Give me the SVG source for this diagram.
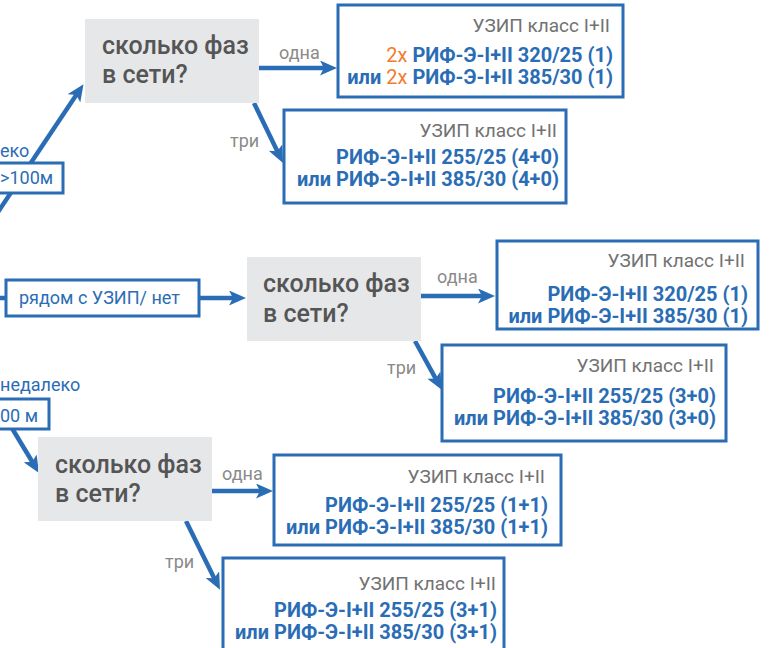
<svg xmlns="http://www.w3.org/2000/svg" width="771" height="648" viewBox="0 0 771 648">
<style>
.q{fill:#e6e7e9}
.qt{font-family:Roboto,"Liberation Sans",sans-serif;font-size:25px;font-weight:500;fill:#555}
.lb{font-family:Roboto,"Liberation Sans",sans-serif;font-size:18px;fill:#8a8a8a}
.rb{fill:#fff;stroke:#2a6db5;stroke-width:3}
.hd{font-family:Roboto,"Liberation Sans",sans-serif;font-size:19px;fill:#727272;text-anchor:end}
.pt{font-family:Roboto,"Liberation Sans",sans-serif;font-size:20px;font-weight:700;fill:#2a6db5;text-anchor:end}
.or{fill:#f27c2c;font-weight:400}
.bt{font-family:Roboto,"Liberation Sans",sans-serif;font-size:18px;fill:#2a6db5}
.c{stroke:#2a6db5;stroke-width:4.5;fill:none;marker-end:url(#ah)}
</style>
<defs>
<marker id="ah" markerUnits="userSpaceOnUse" markerWidth="17" markerHeight="15" viewBox="0 0 17 15" refX="6" refY="7.5" orient="auto">
<path d="M0,0 L17,7.5 L0,15 L4,7.5 z" fill="#2a6db5"/>
</marker>
</defs>
<g id="connectors">
<line class="c" x1="-4" y1="215" x2="77.4" y2="93.3"/>
<line class="c" x1="259" y1="68" x2="326" y2="68"/>
<line class="c" x1="254" y1="103" x2="278.2" y2="153"/>
<line class="c" x1="-2" y1="298" x2="235" y2="298"/>
<line class="c" x1="421" y1="296" x2="484" y2="296"/>
<line class="c" x1="415" y1="341" x2="436.7" y2="380.3"/>
<line class="c" x1="-8" y1="395" x2="33.3" y2="463.5"/>
<line class="c" x1="212" y1="491" x2="262" y2="491"/>
<line class="c" x1="186" y1="521" x2="215.1" y2="580"/>
<text class="lb" x="279" y="59">одна</text>
<text class="lb" x="230" y="147">три</text>
<text class="lb" x="437" y="283">одна</text>
<text class="lb" x="387" y="374">три</text>
<text class="lb" x="222" y="480">одна</text>
<text class="lb" x="165" y="568">три</text>
</g>
<g id="far-label">
<text class="bt" x="0" y="157">еко</text>
<rect class="rb" x="-10" y="163" width="73" height="30"/>
<text class="bt" x="0" y="184">&gt;100м</text>
</g>
<g id="near-label">
<rect class="rb" x="6" y="280" width="193" height="36"/>
<text class="bt" x="19" y="304">рядом с УЗИП/ нет</text>
</g>
<g id="mid-label">
<text class="bt" x="0" y="391">недалеко</text>
<rect class="rb" x="-10" y="399" width="59" height="30"/>
<text class="bt" x="0" y="422">00 м</text>
</g>
<g id="q1">
<rect class="q" x="85" y="19" width="174" height="84"/>
<text class="qt" x="102" y="54">сколько фаз</text>
<text class="qt" x="102" y="83">в сети?</text>
</g>
<g id="q2">
<rect class="q" x="247" y="257" width="174" height="84"/>
<text class="qt" x="263" y="292">сколько фаз</text>
<text class="qt" x="263" y="322">в сети?</text>
</g>
<g id="q3">
<rect class="q" x="38" y="437" width="174" height="84"/>
<text class="qt" x="55" y="473">сколько фаз</text>
<text class="qt" x="55" y="502">в сети?</text>
</g>
<g id="r1">
<rect class="rb" x="338" y="5" width="285" height="92"/>
<text class="hd" x="610" y="32">УЗИП класс I+II</text>
<text class="pt" x="613" y="62"><tspan class="or">2x</tspan> РИФ-Э-I+II 320/25 (1)</text>
<text class="pt" x="613" y="84">или <tspan class="or">2x</tspan> РИФ-Э-I+II 385/30 (1)</text>
</g>
<g id="r2">
<rect class="rb" x="284" y="110" width="282" height="93"/>
<text class="hd" x="557" y="137">УЗИП класс I+II</text>
<text class="pt" x="559" y="164">РИФ-Э-I+II 255/25 (4+0)</text>
<text class="pt" x="559" y="186">или РИФ-Э-I+II 385/30 (4+0)</text>
</g>
<g id="r3">
<rect class="rb" x="497" y="241" width="261" height="88"/>
<text class="hd" x="745" y="267">УЗИП класс I+II</text>
<text class="pt" x="748" y="301">РИФ-Э-I+II 320/25 (1)</text>
<text class="pt" x="748" y="323">или РИФ-Э-I+II 385/30 (1)</text>
</g>
<g id="r4">
<rect class="rb" x="442" y="345" width="284" height="96"/>
<text class="hd" x="714" y="372">УЗИП класс I+II</text>
<text class="pt" x="716" y="403">РИФ-Э-I+II 255/25 (3+0)</text>
<text class="pt" x="716" y="425">или РИФ-Э-I+II 385/30 (3+0)</text>
</g>
<g id="r5">
<rect class="rb" x="274" y="455" width="287" height="90"/>
<text class="hd" x="545" y="483">УЗИП класс I+II</text>
<text class="pt" x="548" y="512">РИФ-Э-I+II 255/25 (1+1)</text>
<text class="pt" x="548" y="534">или РИФ-Э-I+II 385/30 (1+1)</text>
</g>
<g id="r6">
<rect class="rb" x="223" y="558" width="281" height="110"/>
<text class="hd" x="496" y="590">УЗИП класс I+II</text>
<text class="pt" x="497" y="617">РИФ-Э-I+II 255/25 (3+1)</text>
<text class="pt" x="497" y="639">или РИФ-Э-I+II 385/30 (3+1)</text>
</g>
</svg>
